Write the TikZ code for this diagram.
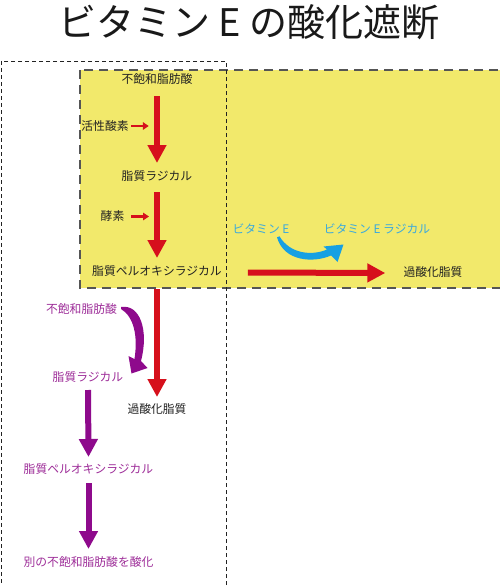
\documentclass[tikz,border=0pt]{standalone}
\usepackage{fontspec}
\setmainfont{Noto Sans CJK JP}
\usetikzlibrary{arrows.meta,calc}
\definecolor{yel}{HTML}{F2E96B}
\definecolor{rd}{HTML}{D6101C}
\definecolor{pu}{HTML}{8E0A8C}
\definecolor{putx}{HTML}{9E2E99}
\definecolor{cy}{HTML}{3BA9DD}
\definecolor{bl}{HTML}{17A0E2}
\definecolor{tx}{HTML}{222222}
\definecolor{bord}{HTML}{555555}
\begin{document}
\begin{tikzpicture}[x=1pt,y=-1pt,
  lbl/.style={font=\fontsize{11.8}{14}\selectfont, text=tx, inner sep=0pt},
  plbl/.style={lbl, text=putx},
  clbl/.style={lbl, text=cy},
  bigred/.style={draw=rd, line width=6pt, -{Triangle[length=18pt,width=18pt]}},
  bigpu/.style={draw=pu, line width=6pt, -{Triangle[length=18pt,width=18pt]}},
  smallred/.style={draw=rd, line width=2.5pt, -{Triangle[length=6pt,width=7.5pt]}}]
\useasboundingbox (0,0) rectangle (500,586);
\fill[white] (0,0) rectangle (500,586);
% yellow area
\filldraw[fill=yel, draw=bord, line width=2pt, dash pattern=on 9pt off 6pt] (80,70) rectangle (506,288);
% left dashed box
\draw[draw=tx, line width=0.9pt, dash pattern=on 4pt off 3pt] (1,61) rectangle (226,592);
% title
\node[inner sep=0pt, font=\fontsize{38}{42}\selectfont, text=black!90] (title) at (249,22) {ビタミン E の酸化遮断};
% main chain
\node[lbl] (n1) at (157,79) {不飽和脂肪酸};
\node[lbl] (n2) at (157,176) {脂質ラジカル};
\node[lbl] (n3) at (157,271) {脂質ペルオキシラジカル};
\node[lbl] (ox) at (433,272) {過酸化脂質};
\node[lbl] (ox2) at (157,409) {過酸化脂質};
\node[lbl] (as) at (105,126) {活性酸素};
\node[lbl] (ko) at (112.5,216) {酵素};
\node[clbl] (ve) at (261,229) {ビタミン E};
\node[clbl] (ver) at (377,229) {ビタミン E ラジカル};
% purple chain
\node[plbl] (p1) at (81.5,309) {不飽和脂肪酸};
\node[plbl] (p2) at (88,377) {脂質ラジカル};
\node[plbl] (p3) at (88.5,469) {脂質ペルオキシラジカル};
\node[plbl] (p4) at (88.5,562) {別の不飽和脂肪酸を酸化};
% red arrows
\draw[bigred] ($(n1)+(0,17)$) -- ($(n2)+(0,-13)$);
\draw[bigred] ($(n2)+(0,16)$) -- ($(n3)+(0,-13)$);
\draw[bigred] ($(n3)+(0,18)$) -- ($(ox2)+(0,-12)$);
\draw[bigred] ($(n3.east)+(26,1.5)$) -- ($(ox.west)+(-18,1)$);
\draw[smallred] ($(as.east)+(2.5,0)$) -- ($(as.east)+(20,0)$);
\draw[smallred] ($(ko.east)+(6.5,0.5)$) -- ($(ko.east)+(24.5,0.5)$);
% purple arrows
\draw[bigpu] ($(p2)+(0,13)$) -- ($(p3)+(0,-12)$);
\draw[bigpu] ($(p3)+(0,14)$) -- ($(p4)+(0,-13)$);
% purple curved arrow
\fill[pu] ($(p1.east)+(4,-2)$) .. controls (140,304) and (149,330) .. (141,361)
  -- (147.5,368) -- (131.5,373.5) -- (128.5,356) -- (134.5,359)
  .. controls (138,336) and (134,317) .. ($(p1.east)+(4,0)$) -- cycle;
% blue curved arrow
\fill[bl] ($(ve.south)+(16,3)$) .. controls (284,262) and (314,263) .. (331,255.5)
  -- (337.5,262) -- (343.5,244.5) -- (323.5,246.5) -- (327,249.5)
  .. controls (312,256) and (290,254) .. ($(ve.south)+(18.5,2)$) -- cycle;
\end{tikzpicture}
\end{document}
